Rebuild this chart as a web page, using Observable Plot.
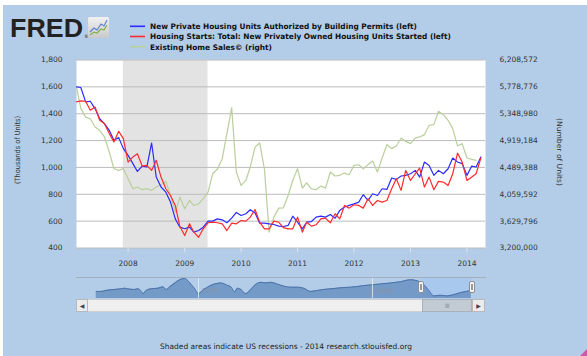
<!DOCTYPE html>
<html><head><meta charset="utf-8">
<script src="https://cdn.jsdelivr.net/npm/d3@7"></script>
<script src="https://cdn.jsdelivr.net/npm/@observablehq/plot@0.6"></script>
<style>
body{margin:0;background:#fff;}
#page{position:relative;width:587px;height:356px;overflow:hidden;font-family:"DejaVu Sans",sans-serif;}
.abs{position:absolute;}
.btn{background:#ececec;border:1px solid #b9b9b9;box-sizing:border-box;color:#444;font-size:6px;line-height:11px;text-align:center;}
.handle{background:#f6f6f6;border:1px solid #8e8e8e;border-radius:2px;box-sizing:border-box;}
.handle::after{content:"";position:absolute;left:1px;top:2px;width:2px;height:6px;border-left:1px solid #999;border-right:1px solid #999;box-sizing:border-box;}
</style></head><body>
<div id="page">
<div class="abs" style="left:3px;top:5px;width:584px;height:351px;background:#b3cde8"></div>
<div id="chart" class="abs" style="left:0;top:0"></div>
<div id="nav" class="abs" style="left:0;top:276px"></div>
<div class="abs handle" style="left:418px;top:281px;width:6px;height:12px"></div>
<div class="abs handle" style="left:469px;top:281px;width:6px;height:12px"></div>
<div class="abs btn" style="left:76px;top:299px;width:12px;height:13px">&#9664;</div>
<div class="abs" style="left:88px;top:299px;width:334px;height:13px;background:#efefef;border-top:1px solid #d0d0d0;border-bottom:1px solid #d0d0d0;box-sizing:border-box"></div>
<div class="abs" style="left:422px;top:299px;width:50px;height:13px;background:#c2cad3;border:1px solid #a9b1ba;box-sizing:border-box;color:#7d8791;font-size:6px;line-height:11px;text-align:center;letter-spacing:-0.5px">III</div>
<div class="abs btn" style="left:472px;top:299px;width:13px;height:13px">&#9654;</div>
<svg id="overlay" class="abs" width="587" height="356" style="left:0;top:0;pointer-events:none"></svg>
</div>
<script>
// ---------- data ----------
const seriesNames = [
  "New Private Housing Units Authorized by Building Permits (left)",
  "Housing Starts: Total: New Privately Owned Housing Units Started (left)",
  "Existing Home Sales\u00A9 (right)"
];
const seriesColors = ["#2b2bff", "#ff2a2a", "#b9cf9c"];

// monthly, Feb 2007 .. Apr 2014 (thousands of units)
const permits = [1600,1595,1488,1493,1438,1363,1326,1276,1202,1222,
 1140,1090,1028,970,1010,1003,1182,928,854,816,
 742,617,555,543,555,518,530,555,600,600,
 617,610,588,622,665,642,655,685,662,585,
 585,580,575,563,560,568,637,592,543,592,
 597,630,637,630,650,622,680,705,717,729,
 742,797,754,804,791,841,836,921,911,936,
 941,953,978,928,1040,1015,941,978,953,990,
 1070,1040,1028,941,1010,1003,1078];
const starts = [1488,1495,1493,1426,1450,1351,1326,1252,1190,1269,
 1214,1040,1078,1102,1010,1015,978,1053,928,841,
 791,717,560,493,580,518,480,543,588,592,
 588,580,530,585,580,605,600,630,687,592,
 543,543,600,592,552,543,543,630,518,592,
 563,573,617,622,588,655,617,717,697,722,
 717,697,767,717,754,742,754,841,916,829,
 978,903,953,995,854,928,834,896,891,866,
 953,1107,1040,903,928,953,1070];
// Feb 2007 .. Mar 2014 (number of units)
const existingSales = [5770000,5435000,5295000,5269000,5136000,5083000,4977000,4737000,4468000,4442000,
 4470000,4309000,4148000,4176000,4133000,4150000,4122000,4176000,4212000,4266000,
 4051000,3774000,4014000,3828000,3961000,3881000,3907000,3989000,4094000,4388000,
 4465000,4629000,5031000,5441000,4416000,4201000,4281000,4496000,4816000,4881000,
 4460000,3454000,3694000,3838000,3840000,4040000,4281000,4470000,4158000,4244000,
 4148000,4133000,4191000,4158000,4416000,4352000,4363000,4399000,4373000,4522000,
 4532000,4466000,4535000,4593000,4416000,4640000,4855000,4790000,4833000,4960000,
 4906000,4870000,4962000,4977000,5014000,5164000,5175000,5388000,5334000,5244000,
 5110000,4833000,4870000,4640000,4618000,4603000];

const leftTicks = [400, 600, 800, 1000, 1200, 1400, 1600, 1800];
const rightTickLabels = ["3,200,000","3,629,796","4,059,592","4,489,388","4,919,184","5,348,980","5,778,776","6,208,572"];
const yearTicks = ["2008","2009","2010","2011","2012","2013","2014"];
const recessions = [{start: "2007-12-01", end: "2009-06-01"}];

// navigator (full history of permits, thousands)
const navYears = [1960.3,1961.0,1962.0,1962.9,1963.9,1964.4,1964.8,1965.8,1966.3,1966.8,1967.0,1967.5,1968.2,1969.2,1969.9,1970.4,1970.8,1971.6,1972.3,1973.0,1973.5,1974.0,1974.4,1975.0,1975.6,1976.3,1977.3,1978.3,1979.0,1979.7,1980.2,1980.6,1981.1,1981.8,1982.6,1983.3,1984.0,1984.7,1985.4,1986.3,1987.3,1988.2,1989.2,1990.1,1991.1,1992.1,1993.0,1994.0,1994.9,1995.9,1996.8,1997.8,1998.8,1999.7,2001.1,2002.6,2004.0,2005.5,2006.4,2007.1,2007.6,2008.1,2008.8,2009.8,2010.7,2011.7,2012.6,2013.5,2014.2];
const navPermits = [943,943,1069,1132,1195,1258,1195,1132,1195,943,723,1038,1195,1258,1384,1132,1353,1762,2077,2203,1983,1573,1258,723,1038,1353,1668,1762,1573,1353,880,1258,1132,723,1195,1668,1825,1762,1825,1668,1447,1353,1353,1258,943,1038,1132,1195,1258,1321,1353,1416,1510,1573,1668,1762,1888,2077,1983,1762,1447,1038,502,565,502,628,817,943,1038];
const navLabelYears = [1975, 2000];
const navSelection = [{start: 2007.08, end: 2014.25}];

const captionText = "Shaded areas indicate US recessions - 2014 research.stlouisfed.org";
const leftTitle = "(Thousands of Units)";
const rightTitle = "(Number of Units)";

// ---------- build ----------
const dates = d3.utcMonth.range(new Date(Date.UTC(2007, 1, 1)), new Date(Date.UTC(2014, 4, 2)));
const rMin = +rightTickLabels[0].replace(/,/g, ""), rMax = +rightTickLabels[rightTickLabels.length - 1].replace(/,/g, "");
const toLeft = r => leftTicks[0] + (r - rMin) / (rMax - rMin) * (leftTicks[leftTicks.length - 1] - leftTicks[0]);
const rows = dates.map((d, i) => ({date: d, permits: permits[i], starts: starts[i]}));
const salesRows = existingSales.map((v, i) => ({date: dates[i], value: toLeft(v)}));
const recRows = recessions.map(r => ({start: new Date(r.start), end: new Date(r.end)}));
const yearDates = yearTicks.map(y => new Date(Date.UTC(+y, 0, 1)));

const chart = Plot.plot({
  width: 587, height: 275,
  marginLeft: 76, marginRight: 102, marginTop: 59.5, marginBottom: 27.5,
  style: {background: "transparent", fontFamily: "DejaVu Sans", fontSize: "7.5px", color: "#333", overflow: "visible"},
  x: {type: "utc", domain: [dates[0], dates[dates.length - 1]]},
  y: {domain: [leftTicks[0], leftTicks[leftTicks.length - 1]]},
  marks: [
    Plot.frame({fill: "white", stroke: null}),
    Plot.rect(recRows, {x1: "start", x2: "end", fill: "#e3e3e3"}),
    Plot.gridY(leftTicks, {stroke: "#bcbcbc", strokeOpacity: 1}),
    Plot.axisY({ticks: leftTicks, tickFormat: d3.format(","), tickSize: 0, tickPadding: 14, label: null, fill: "#333"}),
    Plot.axisY({anchor: "right", ticks: leftTicks, tickFormat: d => rightTickLabels[leftTicks.indexOf(d)], tickSize: 0, tickPadding: 14, label: null, fill: "#333"}),
    Plot.axisX({ticks: yearDates, tickFormat: "%Y", tickSize: 5, tickPadding: 8, stroke: "#d7e3f0", fill: "#333", label: null}),
    Plot.line(salesRows, {x: "date", y: "value", stroke: seriesColors[2], strokeWidth: 1.2}),
    Plot.line(rows, {x: "date", y: "permits", stroke: seriesColors[0], strokeWidth: 1.2}),
    Plot.line(rows, {x: "date", y: "starts", stroke: seriesColors[1], strokeWidth: 1.2})
  ]
});
document.getElementById("chart").append(chart);

const navData = navYears.map((y, i) => ({year: y, v: navPermits[i]}));
const nav = Plot.plot({
  width: 587, height: 23,
  marginLeft: 76, marginRight: 102, marginTop: 1, marginBottom: 1,
  style: {background: "transparent", fontFamily: "DejaVu Sans", fontSize: "7px", overflow: "visible"},
  x: {domain: [1957.47, 2016.24], axis: null},
  y: {domain: [250, 2298], axis: null},
  marks: [
    Plot.rect(navSelection, {x1: "start", x2: "end", fill: "#a9c8ee"}),
    Plot.areaY(navData, {x: "year", y1: 250, y2: "v", fill: "#7197c6", fillOpacity: 0.95, curve: "monotone-x"}),
    Plot.line(navData, {x: "year", y: "v", stroke: "#4b72a8", strokeWidth: 1, curve: "monotone-x"}),
    Plot.ruleX(navLabelYears, {stroke: "#e8eef6", strokeOpacity: 0.8}),
    Plot.text(navLabelYears, {x: d => d, text: d => String(d), frameAnchor: "bottom", dy: -6, dx: 3, textAnchor: "start", fill: "#8694a6"}),
    Plot.frame({anchor: "top", stroke: "#a3afbd"})
  ]
});
document.getElementById("nav").append(nav);

// ---------- overlay: header, legend, titles, caption ----------
const ov = d3.select("#overlay");
ov.append("text").attr("x", 10).attr("y", 37).attr("font-family", "Liberation Sans").attr("font-weight", "bold")
  .attr("font-size", 26.5).attr("fill", "#222").attr("textLength", 73).attr("lengthAdjust", "spacingAndGlyphs").text("FRED");
ov.append("text").attr("x", 84).attr("y", 38).attr("font-size", 4.5).attr("fill", "#222").text("\u00AE");
const grad = ov.append("defs").append("linearGradient").attr("id", "g1").attr("x1", 0).attr("y1", 0).attr("x2", 0).attr("y2", 1);
grad.append("stop").attr("offset", 0).attr("stop-color", "#f2f2f2");
grad.append("stop").attr("offset", 1).attr("stop-color", "#c9c9c9");
const icon = ov.append("g").attr("transform", "translate(88,17)");
icon.append("rect").attr("width", 21).attr("height", 21).attr("rx", 1.5).attr("fill", "url(#g1)");
icon.append("path").attr("d", "M2,15 L6,11 L9,13 L13,7 L16,9 L19,3").attr("fill", "none").attr("stroke", "#5b7fd0").attr("stroke-width", 1.1);
icon.append("path").attr("d", "M2,18 L6,15 L9,16 L13,12 L16,13 L19,8").attr("fill", "none").attr("stroke", "#7fae4a").attr("stroke-width", 1.1);

const legendY = [26.3, 36.5, 46.7];
const legendW = [267, 301, 122];
seriesNames.forEach((name, i) => {
  ov.append("line").attr("x1", 130).attr("x2", 145).attr("y1", legendY[i]).attr("y2", legendY[i])
    .attr("stroke", seriesColors[i]).attr("stroke-width", 1.6);
  ov.append("text").attr("x", 150).attr("y", legendY[i] + 2.8).attr("font-family", "DejaVu Sans").attr("font-weight", "bold")
    .attr("font-size", 7.6).attr("fill", "#111").attr("textLength", legendW[i]).attr("lengthAdjust", "spacingAndGlyphs").text(name);
});

ov.append("text").attr("transform", "translate(20,150) rotate(-90)").attr("text-anchor", "middle")
  .attr("font-size", 7.3).attr("fill", "#333").attr("textLength", 68).attr("lengthAdjust", "spacingAndGlyphs").text(leftTitle);
ov.append("text").attr("transform", "translate(557,152) rotate(90)").attr("text-anchor", "middle")
  .attr("font-size", 7.3).attr("fill", "#333").attr("textLength", 68).attr("lengthAdjust", "spacingAndGlyphs").text(rightTitle);
ov.append("text").attr("x", 160).attr("y", 349).attr("font-size", 7.5).attr("fill", "#222")
  .attr("textLength", 252).attr("lengthAdjust", "spacingAndGlyphs").text(captionText);
ov.append("path").attr("d", "M587,349 L587,356 L580,356 Z").attr("fill", "#d05aa8");
</script>
</body></html>
